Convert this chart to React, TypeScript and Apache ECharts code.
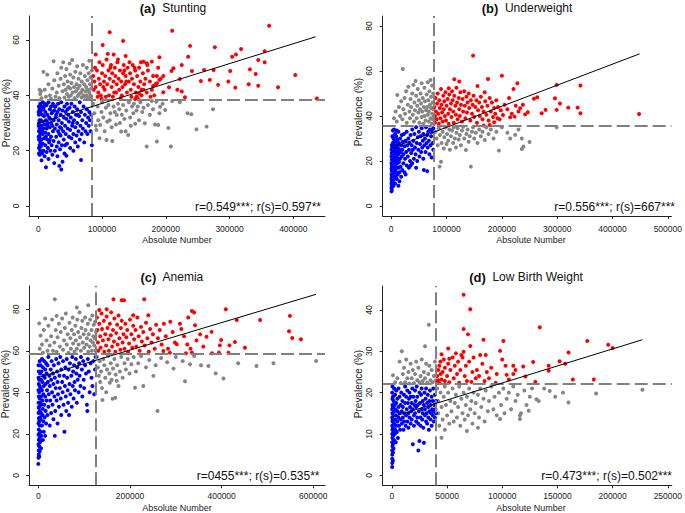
import React, { useEffect, useRef } from "react";
import * as echarts from "echarts";

// ---------- DATA (x in thousands, y = prevalence %) ----------
const xTicksA = [0, 100000, 200000, 300000, 400000];
const xTicksB = [0, 100000, 200000, 300000, 400000, 500000];
const xTicksC = [0, 200000, 400000, 600000];
const xTicksD = [0, 50000, 100000, 150000, 200000, 250000];
const yTicksA = [0, 20, 40, 60];
const yTicksB = [0, 20, 40, 60, 80];
const yTicksC = [0, 20, 40, 60, 80];
const yTicksD = [0, 10, 20, 30, 40];

const titlesBold = ["(a)", "(b)", "(c)", "(d)"];
const titlesText = ["Stunting", "Underweight", "Anemia", "Low Birth Weight"];
const corrTexts = [
  "r=0.549***; r(s)=0.597**",
  "r=0.556***; r(s)=667***",
  "r=0455***; r(s)=0.535**",
  "r=0.473***; r(s)=0.502***",
];
// thresholds: [x threshold (k), y threshold]
const thresholdsA = [83.7, 38.3];
const thresholdsB = [77.4, 35.6];
const thresholdsC = [125.8, 58.5];
const thresholdsD = [40.0, 22.2];
// regression endpoints [[x0,y0],[x1,y1]]
const regA = [[0, 29.9], [435, 61.2]];
const regB = [[0, 25.6], [449, 67.6]];
const regC = [[0, 47.1], [606, 87.2]];
const regD = [[0, 14.1], [227, 32.8]];

// ----- Panel A: Stunting -----
const stuntBlue = [[1,36],[1,33],[1,30],[1,27],[1,24],[1,21],[1,19],[2,35],[2,31],[2,28],[2,25],[2,22],[2,18.5],[3,37],[3,33.5],[3,29],[3,26],[3,23],[3,20],[4,34.5],[4,31],[4,27.5],[4,21.5],[5,36],[5,29],[5,24],[5,16.5],[6,33],[6,19],[7,37.5],[7,30.5],[7,26],[7,22.5],[8,35],[8,28],[8,20],[9,32.5],[9,24.5],[10,37],[10,29.5],[10,18],[11,34],[11,26.5],[11,22],[12,31],[12,14],[13,36.5],[13,28],[13,19.5],[14,33],[14,24],[15,30],[15,21],[16,37.5],[16,26],[16,17],[17,32],[17,23],[18,35],[18,28.5],[19,20],[19,31.5],[20,36],[20,25],[21,33.5],[21,22],[22,29],[22,18.5],[23,37],[23,27],[24,31],[24,23.5],[25,34.5],[25,15.5],[26,28],[26,20],[27,36],[27,32],[28,25],[29,29.5],[29,21.5],[30,34],[30,18],[31,37],[31,27],[32,31],[32,23],[33,35],[33,14.5],[34,28.5],[34,20.5],[35,33],[35,25.5],[36,37.5],[36,13.2],[37,30],[37,22],[38,34.5],[38,16],[39,27],[40,32],[40,24],[41,36],[41,19],[42,29],[43,34],[43,26],[44,31.5],[44,18.2],[45,37],[45,22.5],[46,28],[47,33],[48,25],[48,30.5],[49,35.5],[50,21],[50,27.5],[51,32],[52,24.5],[52,37],[53,29],[54,34],[55,20],[55,26],[56,31],[57,36],[58,23],[58,28.5],[59,33],[60,25.5],[61,30],[61,35],[62,21.5],[63,27],[64,32.5],[65,24],[65,37.5],[66,29],[67,16.6],[67,34],[68,26],[69,31],[70,28],[71,36],[72,23],[73,33],[74,27],[75,30],[76,35],[77,26],[78,32],[79,29],[80,34],[81,31],[82,27],[83,33],[84,22],[0.5,25],[0.5,29],[0.5,34],[6,27],[9,36],[12,25],[14,29],[18,24],[20,30],[22,34],[26,36],[28,33],[33,26],[36,28],[42,22],[46,35],[54,30],[62,33]];
const stuntRed = [[112,62.8],[133,59.7],[210,63.4],[362,65.2],[101,58.2],[238,57.9],[277,57.4],[318,56.8],[355,56],[90,54.8],[118,54.8],[137,54.2],[190,53.8],[310,54.8],[304,54],[235,54],[345,52.8],[355,52],[165,52.2],[178,52.2],[170,51.6],[225,51],[260,49.2],[275,49.2],[301,48.8],[332,49.4],[212,49.8],[209,48.8],[241,48.8],[403,47.4],[341,47.7],[255,45.2],[269,45.6],[298,45],[282,43.8],[309,42.8],[330,44],[345,43.5],[376,42.9],[437,38.9],[222,45.9],[218,42],[225,41.4],[196,41.1],[205,42.9],[230,39.3],[158,40.7],[154,39.5],[152,38.7],[162,42],[186,44.4],[180,43.4],[190,45.6],[196,47],[86,47],[88,45],[90,43],[92,49],[94,41],[95,46],[97,44],[98,40],[100,48],[101,51],[103,45],[104,42],[105,47],[107,53],[108,44],[110,49],[111,40],[112,46],[114,51],[115,43],[116,48],[118,45],[119,41],[120,50],[121,47],[123,44],[124,52],[126,46],[127,42],[128,49],[130,45],[131,40],[133,48],[134,51],[136,44],[137,47],[139,41],[140,50],[142,45],[144,48],[145,42],[147,46],[148,51],[150,44],[152,49],[153,41],[155,47],[157,43],[158,50],[160,45],[162,40],[164,48],[166,44],[168,46],[170,41],[172,49],[175,45],[178,42],[180,47],[184,44],[188,50],[192,46],[87,42],[89,50],[93,39.5],[96,52],[99,38.8],[102,43],[106,39.5],[109,55],[113,50],[117,39.5],[122,41],[125,53],[129,39],[132,43],[135,49],[138,45],[143,52],[146,39.5],[151,50],[156,39],[161,52],[165,42],[171,51],[176,39.5],[182,40],[186,47]];
const stuntGray = [[2,42],[3,40.5],[4,41.5],[5,39],[8,48.5],[10,42],[12,39.5],[14,47.5],[16,44],[18,40],[20,38.8],[22,42.5],[24,52.3],[25,45.5],[27,39.5],[29,41],[30,48],[32,43.5],[33,39],[35,46],[36,50],[38,41.5],[39,52],[40,44],[41,39.2],[42,47],[43,42],[44,49.5],[45,40.5],[46,45],[47,43],[48,39.5],[49,51.5],[50,47.5],[50,42.5],[51,40],[52,44.5],[53,52.8],[54,41],[55,46.5],[56,43],[57,39],[58,48.5],[59,41.5],[60,44],[61,50.5],[62,39.8],[62,42.5],[63,46],[64,40.5],[65,43.5],[66,48],[67,41],[68,39.2],[68,45],[69,42],[70,51],[71,40],[72,44],[73,47],[73,39.5],[74,41.5],[75,43],[76,50],[76,40],[77,45.5],[78,42],[78,39],[79,48],[80,41],[80,52.5],[81,44],[82,40],[82,46.5],[83,42.5],[83,39.5],[84,49],[86,37],[88,33.5],[90,29],[91,27.5],[93,36],[94,31],[96,24.5],[97,29.3],[99,34],[100,37.5],[102,32],[104,27],[106,35.5],[107,23.9],[108,30.5],[110,36.5],[112,31],[113,33.5],[115,28.5],[116,23.5],[118,36],[120,34],[122,29.5],[123,32.9],[125,37],[127,35],[128,30],[130,26.9],[131,33],[133,36.5],[135,31.5],[137,27],[138,34.5],[141,25.7],[142,37.5],[144,32],[145,29],[147,36],[149,33.5],[150,37],[152,29.7],[154,34.5],[156,36],[158,31],[160,37.5],[163,34],[165,35.5],[167,29.9],[170,21.5],[172,36.5],[175,33],[178,38],[180,35],[183,29.5],[185,37.7],[186,23.3],[188,29.3],[190,33.5],[191,35.9],[195,37],[199,34.7],[204,28.2],[208,21.5],[210,38],[222,37.5],[234,33.5],[240,33.2],[248,27.7],[264,28.7],[274,35]];

// ----- Panel B: Underweight -----
const underBlue = [[0.5,6.5],[0.5,8],[0.5,10],[0.5,12],[0.5,14],[0.5,16.5],[0.5,19],[0.5,22],[0.5,25],[1,7],[1,9],[1,11],[1,13],[1,15.5],[1,18],[1,20.5],[1,23.5],[1,27],[1.5,10],[1.5,14],[1.5,17],[2,8.5],[2,12],[2,19],[2,22.5],[2,26],[2,31],[3,11],[3,15],[3,18],[3,21],[3,24],[3,28],[3,33.5],[4,9],[4,13],[4,16.5],[4,20],[4,25.5],[4,30],[5,12],[5,15],[5,18.5],[5,22],[5,27],[5,34],[6,14],[6,17],[6,20.5],[6,24],[6,29],[7,10],[7,16],[7,19],[7,22.5],[7,26],[7,32],[8,13],[8,18],[8,21],[8,25],[8,28.5],[9,15],[9,20],[9,23.5],[9,31],[10,12],[10,17],[10,22],[10,27],[11,19],[11,24],[11,29.5],[12,14],[12,21],[12,26],[13,9],[13,17],[13,23],[13,33],[14,19.5],[14,28],[15,15],[15,25],[16,21],[16,30],[17,17.5],[17,24],[18,27],[18,13],[19,22],[19,31.5],[20,16],[20,25],[21,28.5],[22,19],[22,23],[23,32],[24,15],[24,26.5],[25,21],[26,29],[27,24],[28,18],[28,33],[29,27],[30,22],[31,30],[32,17],[32,25],[33,28],[34,20],[35,31.5],[36,23.5],[37,27],[38,19],[38,34],[39,25],[40,29],[41,21],[42,32],[43,26],[44,23],[45,35],[46,28],[47,20],[48,30.5],[49,25],[50,33],[51,22],[52,27.5],[53,31],[54,24],[55,34.5],[56,26],[57,29],[58,21],[58,32],[59,16],[60,27],[61,30],[62,24],[63,35],[64,28],[65,15.5],[65,31.5],[66,26],[67,33],[68,29],[69,23],[70,34],[71,27],[72,31],[73,21.5],[74,33],[75,28],[76,34.5],[76,25],[15,11],[26,14],[35,18],[45,17],[10,33.5]];
const underRed = [[148,66.8],[200,57.9],[175,56.4],[114,56.3],[123,55.3],[228,54.5],[299,53.8],[342,53.5],[156,53.3],[104,52.3],[221,52],[258,47.6],[264,48.3],[296,47.9],[305,45.5],[320,43.7],[337,43.7],[299,42.7],[279,42.7],[272,41.2],[342,41.2],[448,40.9],[247,41.6],[242,40.7],[233,43.4],[223,39.7],[215,39.4],[202,40.4],[192,39],[186,37.2],[178,36],[167,35.8],[78,44],[79,40],[79,37],[80,48],[81,42],[82,38.5],[83,45.5],[84,50],[85,41],[86,36.5],[87,47],[88,43.5],[89,39],[90,52],[91,45],[92,41.5],[93,37.5],[94,49],[95,43],[96,46.5],[97,40],[98,50.5],[99,38],[100,44.5],[102,47.5],[103,41],[104,36.5],[105,49.5],[106,43],[108,45.5],[109,39.5],[110,51],[111,47],[112,42],[113,37],[114,49],[116,44.5],[117,40.5],[118,52.5],[119,46],[120,38.5],[122,48],[123,43],[124,40],[125,50.5],[126,45],[128,37.5],[129,47.5],[130,42],[132,51],[133,44.5],[134,39],[136,48.5],[137,41.5],[138,46],[140,50],[141,43.5],[143,38],[144,47],[146,41],[147,45],[149,49],[150,39.5],[152,44],[154,47],[155,37],[157,42.5],[159,46],[160,40],[162,48.5],[164,44],[165,38.5],[167,42],[169,50.5],[170,46.5],[172,40.5],[174,44.5],[176,38],[178,48],[180,42],[182,46],[184,39.5],[186,43.5],[188,41],[190,47],[193,44],[196,38.5],[198,42.5],[205,45],[210,43],[213,48],[218,41],[225,44.5],[230,42],[238,45]];
const underGray = [[21,60.9],[11,49.3],[55,54.5],[71,56],[40,53.8],[5,39],[8,42],[10,37.5],[14,44],[16,40],[18,46.5],[20,38.5],[22,43],[24,48],[25,41],[27,51],[28,37],[30,45],[31,53],[33,42],[34,39],[35,47.5],[36,44],[38,50],[39,40.5],[41,37.5],[42,46],[43,42.5],[44,55.5],[45,49],[46,39],[47,44.5],[48,52],[49,41.5],[50,47],[51,37],[52,43],[53,50],[54,45.5],[55,39.5],[56,42],[57,48],[58,36.5],[59,44],[60,52.5],[60,40],[61,46.5],[62,38],[63,42.5],[64,49.5],[65,44],[66,40.5],[66,55],[67,47],[68,37.5],[68,42],[69,51],[70,45],[71,39],[72,43.5],[72,48.5],[73,36.5],[74,41],[74,53.5],[75,46],[75,38.5],[76,43],[76,50],[77,40],[80,33],[82,30],[84,27],[86,34.5],[87.5,17.5],[88,31.5],[90,19.7],[91,28],[93,33],[95,25.5],[96,30.5],[98,35],[100,27.5],[101,32],[103,29],[105,34],[106,25],[108,31],[110,33.5],[112,28],[113,35],[115,30],[117,26],[118,32.5],[120,34.5],[122,29.5],[124,31.5],[126,27],[128,33.5],[130,35.2],[132,30],[135,24.9],[136,32],[138,34],[140,28.5],[142,31],[144,17.5],[146,33],[148,35],[150,30],[153,32.5],[156,28],[159,34],[162,31],[165,33],[169,29.3],[172,35],[176,32],[180,34],[185,30],[190,33],[194.6,24.6],[200,35],[210,32.5],[215,30],[224,31.6],[230,34],[236,30],[236,25.3],[239,26.4],[250,28.4],[299,35]];

// ----- Panel C: Anemia -----
const anemiaBlue = [[0,5.5],[0.5,8.5],[1,10],[1,12],[0.5,15],[1,17],[0.5,19.5],[1,22],[0.5,25],[1,27.5],[0.5,30],[1,32.5],[0.5,35],[1,38],[0.5,41],[1,44],[0.5,47],[1,50],[0.5,53],[2,9],[2,14],[2,20],[2,26],[2,33],[2,40],[2,46],[3,11.5],[3,18],[3,24],[3,31],[3,37],[3,43],[3,55],[4,16],[4,28],[4,35],[4,49],[5,21],[5,27],[5,42],[5,53],[6,13],[6,30],[6,38],[6,46],[7,19],[7,34],[7,50],[8,24],[8,41],[8,56],[9,29],[9,36],[9,45],[10,17],[10,32],[10,52],[11,26],[11,39],[11,48],[12,21],[12,43],[13,34],[13,55],[14,28],[14,47],[15,19],[15,38],[15,51],[16,31],[16,44],[17,25],[17,54],[18,36],[18,49],[19,41],[20,29],[20,53],[21,45],[22,33],[22,57],[23,39],[24,48],[25,24],[25,43],[26,36],[27,51],[28,30],[28,46],[29,55],[30,40],[31,34],[32,49],[33,27],[33,44],[34,53],[35,38],[36,19],[36,47],[37,31],[38,42],[39,56],[40,36],[41,50],[42,25],[42,45],[43,39],[44,54],[45,33],[46,48],[47,42],[48,57],[49,37],[50,29],[50,51],[52,45],[53,40],[54,55],[55,34],[56,48],[57,21],[58,43],[59,52],[60,38],[61,31],[62,56],[63,47],[64,41],[65,35],[66,51],[67,29],[68,44],[69,54],[70,39],[72,48],[73,33],[74,57],[75,43],[76,50],[77,37],[78,53],[79,45],[80,41],[82,56],[83,49],[84,35],[85,52],[86,46],[88,40],[89,54],[90,48],[92,43],[93,57],[95,51],[96,38],[98,55],[99,46],[100,42],[102,53],[104,49],[106,34],[107,31],[108,56],[110,50],[112,40],[114,54],[116,47],[118,43],[120,55],[122,39],[124,51],[125,57]];
const anemiaRed = [[164,84.8],[182,84.3],[187,84.3],[231,84.8],[133,79.6],[149,80],[207,77.1],[240,77.1],[409,80],[433,74.8],[484,74.8],[549,76.8],[547,69.4],[554,66.1],[573,65.5],[335,79.2],[340,78.4],[327,76],[309,73],[342,72.3],[353,67.9],[367,66.7],[378,69.1],[399,65.2],[396,62.6],[417,62.6],[429,64.2],[451,61.5],[379,58.8],[394,59.1],[415,59.1],[322,58.8],[335,59.1],[302,63.1],[287,59.1],[273,59.9],[128,76],[129,70],[130,64],[131,60],[133,73],[135,67],[136,61.5],[138,78],[139,70.5],[141,65],[143,74.5],[144,59.5],[146,68],[148,62.5],[149,76.5],[151,71],[153,65.5],[154,60],[156,73],[158,67.5],[159,78.5],[161,62],[163,70],[165,64.5],[166,75.5],[168,59.5],[170,68.5],[172,72.5],[173,63],[175,77],[177,66],[179,60.5],[180,71],[182,74.5],[184,64],[186,68],[188,61],[190,73],[192,66.5],[194,70],[196,59.5],[198,63.5],[200,75],[203,68],[205,61.5],[207,72],[209,65.5],[212,70],[214,62],[216,76],[219,67],[221,60],[224,71.5],[226,64.5],[229,69],[232,62.5],[235,73.5],[238,66],[241,59.5],[244,70.5],[247,64],[250,68],[254,61],[257,72.5],[261,66],[265,70],[269,63],[274,73],[278,67],[283,61],[288,74],[293,69],[298,64],[312,70.5],[318,67],[325,63],[332,61],[345,65],[360,62]];
const anemiaGray = [[36,84.8],[2,73.2],[5,67.4],[15,75.5],[40,76.8],[84,80.8],[109,81.9],[3,61],[8,63],[10,59],[12,70],[18,65],[20,60],[22,72],[25,62.5],[28,67],[30,75],[32,60],[35,64],[38,70],[40,59.5],[42,66.5],[45,73],[47,62],[49,69],[52,75.5],[54,60.5],[56,65],[58,71],[60,78],[62,63],[64,68],[66,59],[68,73.5],[70,66],[71,61],[73,70],[75,76],[76,63.5],[78,68],[79,59.5],[81,72],[82,65],[84,61],[85,75],[87,69],[88,63],[90,78.5],[91,66.5],[93,60],[94,71],[96,74.5],[97,64],[99,68],[100,61.5],[102,76],[103,70],[105,63],[106,66],[108,73],[109,59.5],[110,68],[112,62],[113,75],[114,65],[116,70],[117,60],[118,77],[119,64],[120,67],[121,72.5],[122,62.5],[123,66],[124,74],[125,60],[126,69],[140,36.3],[162,36.9],[168,37.4],[260,31],[320,45.3],[404,46.6],[387,49.1],[436,54],[476,52.7],[513,54],[606,55.1],[371,52.7],[331,53.5],[295,51.4],[251,47.9],[211,42.2],[229,43],[135,45],[156,44.6],[171,45.5],[128,57],[130,52],[132,48],[134,55],[137,50],[139,42],[142,56],[144,53],[146,47],[148,40],[150,51],[152,57.5],[155,49],[158,54],[160,46],[163,51.5],[166,56],[169,48.5],[172,53],[175,43],[178,50],[181,57],[184,47],[188,54],[191,51],[195,56],[199,49],[203,53.5],[208,57],[213,50],[218,54],[224,57.5],[235,52],[242,55.5],[256,53],[268,56.5],[281,54.5],[300,57],[315,55],[340,57.5],[355,53]];

// ----- Panel D: Low Birth Weight -----
const lbwBlue = [[0.3,2],[0.3,3],[0.3,4],[0.3,5],[0.3,6],[0.5,7],[0.3,8],[0.5,9],[0.3,10],[0.5,11],[0.3,12],[0.5,13],[0.3,14],[0.5,15],[0.3,16],[0.5,17],[0.5,18.5],[0.3,20],[0.5,21.5],[1,3.5],[1,5.5],[1,7.5],[1,9.5],[1,11.5],[1,13.5],[1,16.5],[1,19],[1.5,6.5],[1.5,10.5],[1.5,14.5],[1.5,18],[2,8.5],[2,12.5],[2,15.5],[2,21],[2.5,10],[2.5,17],[3,11],[3,13.5],[3,16],[3,19.5],[3.5,8],[3.5,14.5],[4,12],[4,17.5],[4,20.5],[4.5,10.5],[5,13],[5,15.5],[5,18.5],[5.5,9],[6,14],[6,16.5],[6,21],[6.5,12],[7,15],[7,19],[7.5,11],[8,13.5],[8,17],[8.5,20],[9,12.5],[9,15.5],[9.5,18],[10,14],[10,16.5],[10.5,11],[11,19.5],[11,13],[11.5,15],[12,17.5],[12,21.5],[12.5,12],[13,14.5],[13,19],[13.5,16],[14,13],[14,20.5],[14.5,17.5],[15,15],[15,11.5],[15.5,18.5],[16,14],[16,20],[16.5,16.5],[17,12.5],[17,19],[17.5,15.5],[18,17.5],[18,13.5],[18.5,21],[19,16],[19,7.5],[19.5,19],[20,14.5],[20,12],[20.5,17],[21,20.5],[21,15],[21.5,18],[22,13],[22,16.5],[22.5,21.5],[23,14],[23,19],[23.5,17],[24,12.5],[24,6],[24.5,15.5],[25,20],[25,8.3],[25.5,17.5],[26,14],[26,12],[26.5,19.5],[27,16],[27,21],[27.5,13.5],[28,18],[28,15],[28.5,11.5],[29,7.9],[29,17],[29.5,20],[30,14.5],[30,16],[30.5,18.5],[31,13],[31,21],[31.5,15],[32,17.5],[32,12.5],[32.5,19.5],[33,14],[33,16.5],[33.5,11],[34,18],[34,15.5],[34.5,20.5],[35,13.5],[35,17],[35.5,15],[36,19],[36,12],[36.5,16],[37,14.5],[37,18],[37.5,21],[38,15.5],[38,13],[38.5,17],[39,14],[39,19.5],[39.5,16],[40,15],[40,18]];
const lbwRed = [[65,43.7],[71,40.2],[65,35.4],[69,34.1],[134,35.8],[83,32.8],[101,32.5],[177,32.5],[196,31.6],[200,30.8],[160,29.7],[51,30.7],[71,31.3],[65,29.9],[58,29.5],[63,29.1],[98,30.1],[80,29.1],[85,29.1],[45,29.3],[52,28.2],[152,27.6],[157,27],[128,27.4],[142,26.5],[119,26.3],[110,26.5],[103,26.5],[142,25.3],[164,23.2],[183,23.2],[130,22.6],[121,23.9],[110,24.5],[104,24.3],[94,22.4],[84,22.8],[72,22.6],[41,22.5],[41,24],[42,25.5],[42,23],[43,26.5],[43,22.3],[44,24.5],[44,27.5],[45,23.2],[46,25],[47,28],[48,22.8],[48,26],[50,24],[51,27],[52,22.5],[53,25.5],[55,28.5],[56,23.5],[57,26.5],[59,24.5],[60,27.5],[61,22.4],[62,25.5],[64,28.5],[66,24],[67,26.5],[68,22.8],[70,27.5],[73,25],[74,28.5],[76,23.5],[77,25.5],[79,24],[82,27],[86,25],[88,23.5],[90,26],[95,24.5],[100,28],[106,23.2],[112,25.5]];
const lbwGray = [[33.5,36.4],[30,31.2],[9,30],[1,24.2],[3,22.5],[5,23.5],[7,27.5],[8,22.3],[10,24.5],[11,26],[12,22.5],[13,28],[14,23.5],[15,25],[16,22.2],[17,27],[18,23.5],[19,25.5],[20,22.3],[21,24.5],[22,27.5],[23,23],[24,26],[25,22.5],[26,24],[27,28],[28,22.8],[29,25],[30,23.5],[31,27],[32,22.4],[33,24.5],[34,26.5],[35,23],[36,25.5],[37,22.5],[38,24],[39,27.5],[40,23],[227,20.7],[185,19.8],[160,17.6],[143,20.4],[131,18.4],[116,14.5],[124,15.6],[116,13.6],[98,13.6],[78,11.5],[68,10.7],[45,9.1],[41,21],[42,18],[42,15],[43,12],[44,20],[45,16.5],[46,13.5],[47,19],[48,21.5],[48,11],[49,17],[50,14.5],[51,20],[52,12.5],[53,18],[54,15.5],[55,21],[56,13],[57,17.5],[58,19.5],[59,14],[60,16.5],[61,21.5],[62,12],[63,18.5],[64,15],[65,20],[66,13.5],[67,17],[68,19],[69,14.5],[70,21],[71,16],[72,18],[73,12.5],[74,20],[75,15],[76,17.5],[78,19.5],[79,14],[80,21],[81,16.5],[83,18.5],[84,13],[85,20.5],[87,15.5],[88,18],[90,21.5],[92,16],[93,19],[95,14.5],[97,20],[99,17],[101,21],[102,15],[104,18.5],[106,20],[108,16],[110,21.5],[112,18],[114,19.5],[117,15],[120,20.5],[122,17],[125,19],[127,21],[133,18],[138,21],[148,19],[155,20]];

// ---------- LAYOUT ----------
const FONT = "'Liberation Sans', Arial, Helvetica, sans-serif";
const panels = [
  { grid: { left: 29, top: 16, width: 296, height: 200 }, xr: [-14600, 449700], yr: [-3.62, 68.7],
    xt: xTicksA, yt: yTicksA, blue: stuntBlue, red: stuntRed, gray: stuntGray, thr: thresholdsA, reg: regA, xMargin: 8,
    titleX: 173, titleY: 8, yNameX: 6, yNameY: 113, xNameX: 177, xNameY: 240, corrX: 321, corrY: 207 },
  { grid: { left: 382.7, top: 16, width: 292.3, height: 200 }, xr: [-15400, 506600], yr: [-4.44, 84.4],
    xt: xTicksB, yt: yTicksB, blue: underBlue, red: underRed, gray: underGray, thr: thresholdsB, reg: regB, xMargin: 8,
    titleX: 527, titleY: 8, yNameX: 358, yNameY: 112, xNameX: 531, xNameY: 240, corrX: 675, corrY: 207 },
  { grid: { left: 29, top: 286, width: 296, height: 199.3 }, xr: [-20300, 625500], yr: [-4.82, 91.2],
    xt: xTicksC, yt: yTicksC, blue: anemiaBlue, red: anemiaRed, gray: anemiaGray, thr: thresholdsC, reg: regC, xMargin: 6,
    titleX: 172, titleY: 277, yNameX: 5, yNameY: 384, xNameX: 177, xNameY: 507.5, corrX: 319.5, corrY: 476 },
  { grid: { left: 382.7, top: 286, width: 292.3, height: 199.3 }, xr: [-8300, 253600], yr: [-2.42, 45.8],
    xt: xTicksD, yt: yTicksD, blue: lbwBlue, red: lbwRed, gray: lbwGray, thr: thresholdsD, reg: regD, xMargin: 6,
    titleX: 526, titleY: 277, yNameX: 358, yNameY: 384, xNameX: 531, xNameY: 507.5, corrX: 672, corrY: 476 },
];

const toPts = (arr: number[][]) => arr.map(([x, y]) => [x * 1000, y]);

function buildOption() {
  const axisColor = "#222";
  const grid: any[] = [];
  const xAxis: any[] = [];
  const yAxis: any[] = [];
  const series: any[] = [];
  const graphic: any[] = [];
  panels.forEach((p, i) => {
    grid.push({ ...p.grid, containLabel: false });
    xAxis.push({
      type: "value", gridIndex: i, min: p.xr[0], max: p.xr[1],
      axisLine: { show: true, onZero: false, lineStyle: { color: axisColor, width: 1 } },
      axisTick: { show: true, inside: false, length: 3, customValues: p.xt, lineStyle: { color: axisColor } },
      axisLabel: { show: true, customValues: p.xt, margin: p.xMargin, fontSize: 8.5, lineHeight: 9, color: axisColor, fontFamily: FONT,
        formatter: (v: number) => String(v) },
      splitLine: { show: false },
    });
    yAxis.push({
      type: "value", gridIndex: i, min: p.yr[0], max: p.yr[1],
      axisLine: { show: true, onZero: false, lineStyle: { color: axisColor, width: 1 } },
      axisTick: { show: true, inside: false, length: 3, customValues: p.yt, lineStyle: { color: axisColor } },
      axisLabel: { show: true, customValues: p.yt, rotate: 90, margin: 9, fontSize: 8.5, color: axisColor, fontFamily: FONT,
        formatter: (v: number) => String(v) },
      splitLine: { show: false },
    });
    const sc = (data: number[][], color: string) => ({
      type: "scatter", xAxisIndex: i, yAxisIndex: i, data: toPts(data), symbol: "circle", symbolSize: 4,
      itemStyle: { color, opacity: 1 }, silent: true,
    });
    series.push(sc(p.gray, "#858585"));
    series.push(sc(p.blue, "#0000ff"));
    series.push(sc(p.red, "#ff0000"));
    series.push({
      type: "line", xAxisIndex: i, yAxisIndex: i, data: toPts(p.reg), showSymbol: false, symbol: "none",
      lineStyle: { color: "#000", width: 1 }, silent: true, z: 5,
      markLine: {
        silent: true, symbol: ["none", "none"], label: { show: false },
        lineStyle: { color: "#808080", width: 2, type: [13, 5] },
        data: [{ xAxis: p.thr[0] * 1000 }, { yAxis: p.thr[1] }],
      },
    });
    graphic.push({
      type: "text", x: p.titleX, y: p.titleY,
      style: {
        text: `{b|${titlesBold[i]}}{n|  ${titlesText[i]}}`, align: "center", verticalAlign: "middle",
        rich: {
          b: { fontWeight: "bold", fontSize: 13, fontFamily: FONT, fill: "#111" },
          n: { fontSize: 12, fontFamily: FONT, fill: "#111" },
        },
      },
    });
    graphic.push({
      type: "text", x: p.yNameX, y: p.yNameY, rotation: Math.PI / 2,
      style: { text: "Prevalence (%)", align: "center", verticalAlign: "middle", fontSize: 10, fontFamily: FONT, fill: "#222" },
    });
    graphic.push({
      type: "text", x: p.xNameX, y: p.xNameY,
      style: { text: "Absolute Number", align: "center", verticalAlign: "middle", fontSize: 9, lineHeight: 9, fontFamily: FONT, fill: "#222" },
    });
    graphic.push({
      type: "text", x: p.corrX, y: p.corrY,
      style: { text: corrTexts[i], align: "right", verticalAlign: "middle", fontSize: 12, fontFamily: FONT, fill: "#111" },
    });
  });
  return { animation: false, backgroundColor: "#ffffff", grid, xAxis, yAxis, series, graphic };
}

export default function App() {
  const ref = useRef<HTMLDivElement>(null);
  useEffect(() => {
    const chart = echarts.init(ref.current as HTMLDivElement, null, { renderer: "svg" });
    chart.setOption(buildOption() as any);
    return () => chart.dispose();
  }, []);
  return <div ref={ref} style={{ position: "absolute", left: 0, top: 0, width: 685, height: 513 }} />;
}
